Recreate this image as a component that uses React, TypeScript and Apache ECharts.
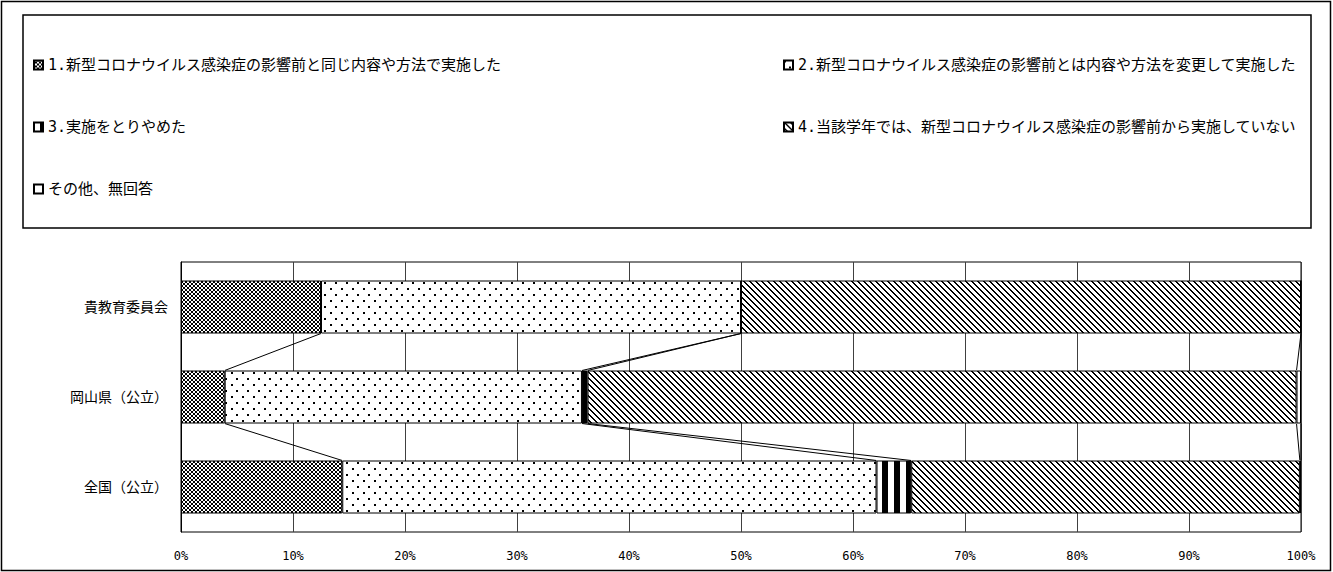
import React, { useEffect, useRef } from "react";
import * as echarts from "echarts";

const categories = ["貴教育委員会", "岡山県（公立）", "全国（公立）"];
const seriesNames = [
  "1.新型コロナウイルス感染症の影響前と同じ内容や方法で実施した",
  "2.新型コロナウイルス感染症の影響前とは内容や方法を変更して実施した",
  "3.実施をとりやめた",
  "4.当該学年では、新型コロナウイルス感染症の影響前から実施していない",
  "その他、無回答",
];
const s1Values = [12.5, 3.9, 14.4];
const s2Values = [37.5, 31.9, 47.7];
const s3Values = [0, 0.5, 3.1];
const s4Values = [50, 63.3, 34.7];
const s5Values = [0, 0.4, 0.1];
const xTicks = [0, 10, 20, 30, 40, 50, 60, 70, 80, 90, 100];

const allValues = [s1Values, s2Values, s3Values, s4Values, s5Values];

function makePattern(rows: string[]) {
  const w = rows[0].length;
  const h = rows.length;
  const c = document.createElement("canvas");
  c.width = w;
  c.height = h;
  const ctx = c.getContext("2d")!;
  ctx.fillStyle = "#ffffff";
  ctx.fillRect(0, 0, w, h);
  ctx.fillStyle = "#000000";
  for (let y = 0; y < h; y++) {
    for (let x = 0; x < w; x++) {
      if (rows[y][x] === "1") ctx.fillRect(x, y, 1, 1);
    }
  }
  return { image: c, repeat: "repeat", imageWidth: w, imageHeight: h } as any;
}

export default function App() {
  const ref = useRef<HTMLDivElement>(null);

  useEffect(() => {
    document.body.style.margin = "0";
    if (!ref.current) return;
    const chart = echarts.init(ref.current, null, { renderer: "svg" });

    const patterns = [
      makePattern(["1001", "0110", "0110", "1001"]),
      makePattern([
        "11000000000",
        "11000000000",
        "00000000000",
        "00000000000",
        "00000000000",
        "00000000000",
        "00000110000",
        "00000110000",
        "00000000000",
        "00000000000",
        "00000000000",
        "00000000000",
      ]),
      makePattern(["000000111111"]),
      makePattern(["110000", "011000", "001100", "000110", "000011", "100001"]),
      "#ffffff",
    ];

    const cum = categories.map((_, ci) => {
      const arr: number[] = [];
      let s = 0;
      for (let k = 0; k < allValues.length - 1; k++) {
        s += allValues[k][ci];
        arr.push(s);
      }
      arr.push(100);
      return arr;
    });
    const lineData: number[][] = [];
    for (let ci = 0; ci < categories.length - 1; ci++) {
      for (let k = 0; k < allValues.length - 1; k++) {
        lineData.push([cum[ci][k], ci, cum[ci + 1][k], ci + 1]);
      }
      lineData.push([100, ci, 100, ci + 1]);
    }

    const barH = 53;
    const font = "'DejaVu Sans Mono', 'Noto Sans CJK JP', sans-serif";

    const barSeries = seriesNames.map((name, i) => ({
      name,
      type: "bar",
      stack: "total",
      barWidth: barH,
      data: allValues[i],
      itemStyle: {
        color: patterns[i],
        borderColor: "#000000",
        borderWidth: 1,
      },
      emphasis: { disabled: true },
    }));

    const legendCommon = {
      orient: "vertical",
      top: 50,
      itemWidth: 9,
      itemHeight: 9,
      itemGap: 42,
      icon: "rect",
      selectedMode: false,
      textStyle: { fontSize: 15, color: "#000", fontFamily: font, lineHeight: 20 },
    };

    chart.setOption({
      animation: false,
      backgroundColor: "#ffffff",
      textStyle: { fontFamily: font },
      grid: { left: 181, right: 32, top: 262, bottom: 40, show: true, borderColor: "#000000", borderWidth: 1, containLabel: false },
      legend: [
        { ...legendCommon, data: [seriesNames[0], seriesNames[2], seriesNames[4]], left: 28 },
        { ...legendCommon, data: [seriesNames[1], seriesNames[3]], left: 778 },
      ],
      xAxis: {
        type: "value",
        min: 0,
        max: 100,
        interval: 10,
        axisLine: { show: false },
        axisTick: { show: false },
        axisLabel: {
          formatter: (v: number) => (xTicks.includes(v) ? v + "%" : ""),
          fontSize: 12,
          color: "#000",
          margin: 18,
          fontFamily: font,
        },
        splitLine: { show: true, lineStyle: { color: "#404040", width: 1 } },
      },
      yAxis: {
        type: "category",
        data: categories,
        inverse: true,
        axisLine: { show: true, lineStyle: { color: "#000" } },
        axisTick: { show: false },
        axisLabel: { fontSize: 14, color: "#000", margin: 13, fontFamily: font },
        splitLine: { show: false },
      },
      series: [
        ...barSeries,
        {
          type: "custom",
          name: "series-lines",
          data: lineData,
          encode: { x: [0, 2], y: [1, 3] },
          silent: true,
          z: 3,
          renderItem: (params: any, api: any) => {
            const p1 = api.coord([api.value(0), api.value(1)]);
            const p2 = api.coord([api.value(2), api.value(3)]);
            const half = barH / 2;
            return {
              type: "line",
              shape: { x1: p1[0], y1: p1[1] + half, x2: p2[0], y2: p2[1] - half },
              style: { stroke: "#000", lineWidth: 1 },
            };
          },
        },
      ],
      graphic: [
        {
          type: "rect",
          shape: { x: 1.5, y: 1.5, width: 1329, height: 569 },
          style: { fill: "none", stroke: "#000", lineWidth: 1.5 },
          silent: true,
          z: -1,
        },
        {
          type: "rect",
          shape: { x: 23, y: 15, width: 1288, height: 213 },
          style: { fill: "none", stroke: "#000", lineWidth: 1.5 },
          silent: true,
        },
      ],
    });

    return () => chart.dispose();
  }, []);

  return <div ref={ref} style={{ width: 1333, height: 572 }} />;
}
